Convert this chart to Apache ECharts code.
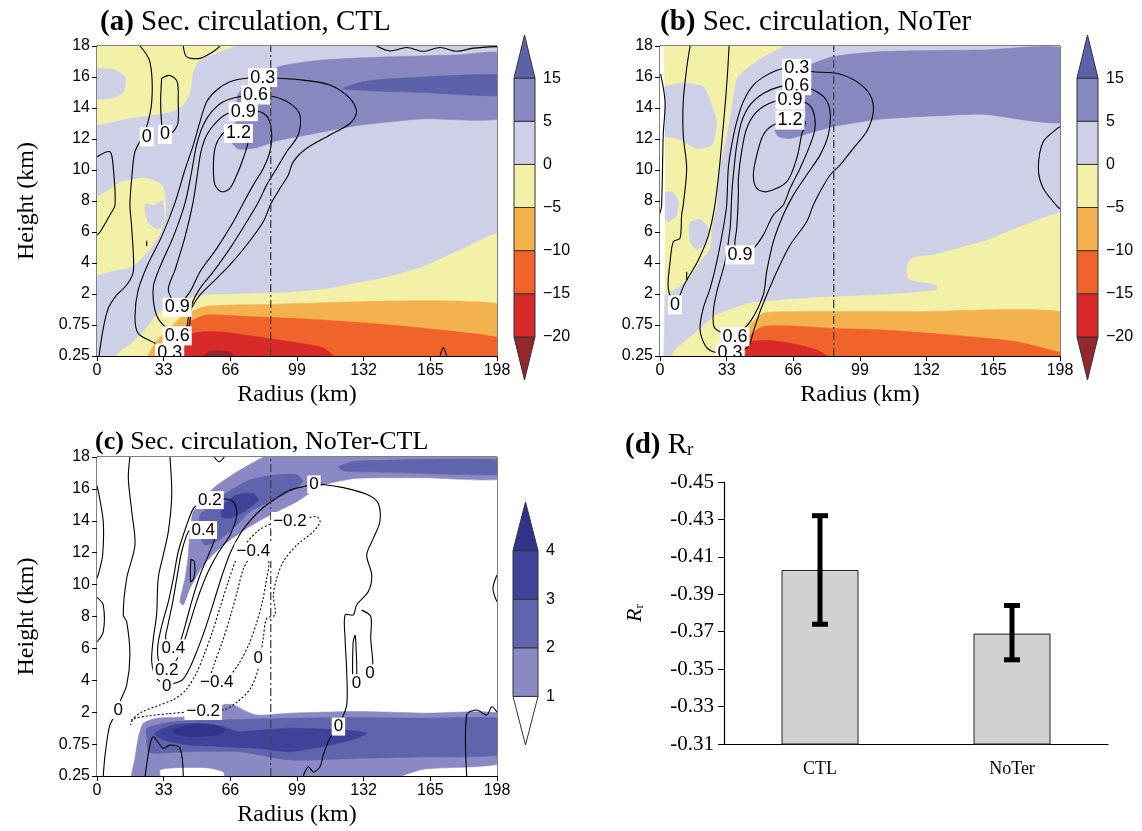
<!DOCTYPE html>
<html><head><meta charset="utf-8">
<script src="https://cdn.jsdelivr.net/npm/echarts@6/dist/echarts.min.js"></script>
<style>html,body{margin:0;padding:0;background:#fff}#c{width:1142px;height:831px}</style>
</head><body><div id="c"></div>
<script>
// ---------- axes / ticks ----------
const radiusMin = 0, radiusMax = 198, radiusStep = 33;
const heightLabels = ['0.25','0.75','2','4','6','8','10','12','14','16','18'];
const dashRadius = 86;
const cbLabelsAB = ['\u221220','\u221215','\u221210','\u22125','0','5','15'];
const cbColorsAB = ['#93272b','#d72a29','#f0632b','#f4b24f','#f3f1a7','#cdd0e7','#8788c0','#5c62aa'];
const cbLabelsC = ['1','2','3','4'];
const cbColorsC = ['#ffffff','#8b89c4','#5f64ad','#3e4399','#2f338a'];
const WHITE = '#ffffff';

// ---------- panel (a) filled regions (radius km, level index) ----------
const A_bg = [[0,0],[198,0],[198,10],[0,10]];
const A_yelTop = [[0,10],[72,10],[51,9.55],[47.5,9.16],[46,8.5],[42.6,8.1],[36,7.87],[16,7.68],[0,7.5]];
const A_lavBlob = [[0,9.2],[8,9.25],[14,9.0],[13,8.5],[6,8.3],[0,8.35]];
const A_yelMid = [[0,4.9],[5.6,5.35],[12.2,5.62],[23.8,5.73],[32,5.52],[34,5.03],[33.7,4.49],[31.2,3.97],[27.1,3.53],[22.1,3.15],[17.2,2.88],[8.9,2.77],[0,2.61]];
const A_lavMid = [[24,4.9],[28,4.85],[32.5,5.0],[33,4.3],[30,4.1],[25.5,4.3],[24,4.6]];
const A_yelLow = [[198,3.96],[178,3.36],[161.5,2.88],[145,2.56],[128.5,2.35],[112,2.15],[95.5,2.05],[79,2.01],[66,1.99],[51,1.95],[38.6,1.7],[30.3,1.38],[23.8,0.84],[17.2,0.41],[10.5,0.09],[8,0],[198,0]];
const A_org = [[198,1.65],[73,1.65],[53.5,1.59],[41.9,1.27],[35.1,0.84],[28.7,0.42],[25.2,0],[198,0]];
const A_rorg = [[198,0.52],[178,0.78],[145,1.0],[112,1.16],[87,1.24],[66,1.3],[54,1.32],[46,1.1],[41,0.68],[36,0.26],[34,0],[198,0]];
const A_red = [[118.6,0],[112,0.26],[95.5,0.46],[79,0.62],[62.4,0.77],[52.5,0.78],[46,0.68],[43.6,0.35],[42.6,0]];
const A_dred = [[51,0],[55,0.12],[60,0.17],[66,0.12],[69,0]];
const A_pur = [[89.8,9.33],[112,9.55],[145,9.65],[178,9.71],[198,9.73],[198,7.72],[161.5,7.65],[128.5,7.43],[103.8,7.13],[89,6.94],[79,6.72],[70,6.68],[66.7,6.91],[69.2,7.67],[70,8.47],[79,8.85]];
const A_dpur = [[121.9,8.63],[133.5,8.87],[161.5,9.0],[198,9.04],[198,8.42],[161.5,8.5],[136.8,8.55]];

// ---------- panel (a) contour lines ----------
const A_c0Left = [[0,6.43],[6.4,6.59],[8.1,6.05],[8.9,4.87],[6.4,4.55],[1.5,4.0],[0,3.9]];
const A_c0Long = [[21.3,10],[26.2,9.49],[27.1,8.2],[23.8,7.24],[18.8,6.59],[17.2,5.73],[16.3,4.87],[17.2,4.12],[18,2.72],[14.7,2.29],[9.8,1.97],[5.6,1.54],[3.1,0.89],[1,0]];
const A_c0Loop = [[32,8.96],[36,9.05],[39.7,8.85],[40.2,8.2],[40,7.5],[37,7.2],[33,7.2],[32,7.5],[31.5,8.2],[32,8.96]];
const A_c0Top = [[42.7,10],[44.4,9.65],[51,9.6],[57.6,9.82],[60.9,10]];
const A_c0TopR = [[138.4,10],[145,9.84],[153.3,9.95],[161.5,9.83],[169.8,9.95],[178,9.83],[186.3,9.93],[198,9.98]];
const A_bump = [[169.8,0],[171.4,0.27],[173.1,0]];
const A_tick = [[24.6,3.55],[24.6,3.72]];
const A_c03 = [[33,0.2],[28.7,0.41],[20.4,0.73],[18.8,1.27],[20.4,2.13],[25.4,2.99],[32,3.85],[38.6,4.94],[43.5,6.0],[47.7,6.81],[51,7.56],[54.3,8.2],[59.3,8.58],[65.8,8.85],[74,8.96],[82,8.98],[89.7,8.96],[102,8.9],[115.3,8.74],[125.2,8.31],[128.5,7.88],[125.2,7.5],[115.3,7.13],[103.8,6.7],[97.2,6.27],[94.7,5.84],[90.6,5.41],[86,4.9],[82.3,4.33],[74.1,3.58],[65.8,2.94],[57.6,2.4],[51,1.97],[46,1.43],[44.4,0.89],[41.9,0.35],[40,0.1]];
const A_c06 = [[39.7,0.65],[32,1.05],[28.7,1.48],[27.9,2.24],[31.2,2.88],[37.8,3.85],[43.6,4.94],[47,6.0],[49.3,6.81],[52.6,7.45],[56.8,7.88],[62.5,8.2],[70.8,8.37],[78.5,8.42],[87.3,8.37],[95.5,8.15],[100.5,7.77],[99.6,7.13],[93.9,6.59],[88.9,6.05],[84,5.52],[79.8,4.95],[74.1,4.33],[65.8,3.47],[57.6,2.72],[51,2.18],[46.9,1.65],[46,1.1],[44.4,0.68],[39.7,0.65]];
const A_c09 = [[39.7,1.57],[35.3,2.13],[38.6,2.77],[43.6,3.85],[47.5,4.94],[50,6.0],[51.5,6.6],[54.3,7.13],[59.3,7.56],[65,7.83],[72.4,7.88],[80.7,7.88],[84.8,7.67],[86.5,7.13],[85.6,6.59],[82.3,6.05],[77.4,5.52],[73,5.0],[67.5,4.33],[59.3,3.47],[51,2.72],[46,2.07],[39.7,1.57]];
const A_c12 = [[70,7.18],[67.5,7.4],[61.7,7.13],[58.4,6.7],[57.6,6.05],[58.4,5.52],[61.7,5.3],[65.8,5.41],[69.2,5.84],[72.4,6.38],[74.9,6.91],[75.7,7.24],[70,7.18]];
const A_labels = [[82,8.98,'0.3'],[78.5,8.42,'0.6'],[72.4,7.88,'0.9'],[70,7.18,'1.2'],[24.6,7.07,'0'],[33.7,7.15,'0'],[39.7,1.57,'0.9'],[39.7,0.65,'0.6'],[36,0.1,'0.3']];

// ---------- panel (b) filled regions ----------
const B_bg = [[0,0],[198,0],[198,10],[0,10]];
const B_white = [[0,0],[1.5,0],[1.5,10],[0,10]];
const B_yelLeft = [[1.5,10],[64.4,10],[51.2,9.66],[42.9,9.28],[38,8.96],[36.3,8.42],[34.7,7.77],[33,7.13],[30.5,6.38],[28.9,5.73],[28,4.87],[25.6,4.1],[24.8,3.5],[20,3.05],[13,2.4],[5,2.07],[1.5,1.96]];
const B_lav1 = [[1.5,8.63],[11.5,8.8],[21.4,8.69],[24.8,8.2],[28,7.56],[25.6,6.8],[18.2,6.7],[8.3,7.02],[1.5,7.13]];
const B_lav2 = [[14.8,4.3],[20,4.4],[24,4.1],[23,3.6],[18,3.45],[15,3.7]];
const B_lav3 = [[1.5,5.2],[6,5.3],[9,5.0],[8,4.5],[4,4.35],[1.5,4.5]];
const B_yelLow = [[198,4.65],[196.7,4.6],[184.7,4.33],[168.3,3.9],[160,3.69],[135.3,3.26],[127,3.2],[123,3.04],[123,2.5],[137,2.29],[137,2.13],[110.5,1.97],[85.8,1.91],[61,1.81],[44.6,1.7],[28,1.32],[16.5,0.68],[8.3,0.25],[5,0],[198,0]];
const B_org = [[198,1.38],[127,1.43],[66,1.43],[51.1,1.38],[44.6,1.0],[39.6,0.46],[36.3,0],[198,0]];
const B_rorg = [[198,0.1],[196.7,0.14],[176.6,0.46],[143.6,0.68],[110.5,0.84],[85.8,0.89],[64.4,0.97],[51.1,0.95],[44.6,0.68],[42,0.35],[41.2,0],[198,0]];
const B_red = [[85,0],[77.6,0.19],[64.4,0.41],[54.5,0.5],[44.6,0.46],[42.9,0.25],[42.9,0]];
const B_pur = [[74.3,9.39],[85.8,9.66],[110.5,9.82],[160,9.87],[198,9.87],[198,7.58],[160,7.8],[143.6,7.77],[110.5,7.65],[85.8,7.4],[64.4,7.02],[58.6,7.08],[56.9,7.29],[64.4,7.34],[71.8,7.67],[71.8,8.2],[72.6,8.74],[72.6,9.28]];

// ---------- panel (b) contour lines ----------
const B_c0Edge = [[0.3,9.1],[2.5,8.2],[1.6,7.13],[0.8,4.87],[0,4.6]];
const B_c0 = [[14.9,10],[13.2,9.28],[11.5,8.2],[11.5,7.13],[13.2,6.05],[11.5,4.87],[10.7,4.55],[9.9,3.8],[6.6,3.69],[5,3.04],[4.1,2.18],[7.4,1.65],[12,2.3],[19,3.1],[24,3.9],[27,4.8],[29.3,6.0],[31,7.2],[32.5,8.3],[33.5,9.2],[34.2,10]];
const B_c03 = [[34.7,0.09],[26.4,0.14],[22.3,0.35],[19.8,0.89],[21.4,1.54],[24.8,2.18],[28.1,3.04],[31.3,4.12],[33,4.87],[33.8,6.05],[35.5,6.81],[38,7.56],[41.2,8.2],[46.2,8.74],[52.8,9.06],[60,9.26],[67.7,9.28],[75.9,9.17],[87.5,9.12],[97.4,8.85],[104,8.42],[105.6,7.88],[102.3,7.24],[95.7,6.7],[89.1,6.16],[84.2,5.84],[79.2,5.3],[75.9,4.87],[72.6,4.33],[64.4,3.58],[57.8,2.72],[52.8,1.97],[49.5,1.43],[46.2,0.78],[43.7,0.3],[38,0.1]];
const B_c06 = [[37.1,0.62],[27.2,0.89],[26.4,1.43],[28.1,2.07],[32.2,3.04],[34.7,4.12],[35.5,5.19],[36.3,5.84],[38,6.81],[40.4,7.56],[44.6,8.1],[51.1,8.47],[59.4,8.69],[67.7,8.74],[75.9,8.58],[81.7,8.31],[84.2,7.88],[83.3,7.13],[79.2,6.48],[72.6,5.84],[66,5.19],[61,4.55],[56.1,3.69],[52.8,2.72],[51.1,1.97],[44.6,1.1],[37.1,0.62]];
const B_c09 = [[39.6,3.26],[37.1,3.58],[38,4.12],[38.8,5.19],[38.8,5.73],[40.4,6.59],[42.9,7.34],[47.9,7.88],[56.1,8.2],[64.4,8.26],[72.6,8.15],[75.9,7.88],[76.7,7.34],[74.3,6.81],[69.3,6.05],[64.4,5.41],[61,4.87],[56.1,4.55],[51.1,3.9],[46.2,3.47],[39.6,3.26]];
const B_c12 = [[64.4,7.61],[71.8,7.56],[70.1,7.13],[67.7,6.38],[62.7,5.62],[52.8,5.3],[47.9,5.41],[46.2,5.84],[47.9,6.48],[51.1,7.13],[56.1,7.45],[64.4,7.61]];
const B_cRight = [[198,7.4],[196.7,7.34],[189.7,6.91],[187.3,6.05],[189.7,5.41],[196.7,4.82],[198,4.75]];
const B_tick = [[13.2,2.45],[13.2,2.72]];
const B_labels = [[67.7,9.28,'0.3'],[67.7,8.72,'0.6'],[64.4,8.26,'0.9'],[64.4,7.61,'1.2'],[39.6,3.26,'0.9'],[37.1,0.62,'0.6'],[34.7,0.09,'0.3'],[7.4,1.65,'0']];

// ---------- panel (c) filled regions ----------
const C_bg = [[0,0],[198,0],[198,10],[0,10]];
const C_upLight = [[89,10],[198,10],[198,9.33],[161.5,9.35],[128.5,9.33],[112,9.12],[98.9,8.6],[85.6,8.18],[74.1,7.76],[62.5,7.24],[52.6,6.61],[46,5.88],[42.7,5.36],[41,5.46],[43.6,6.2],[45.2,6.93],[46,7.66],[47.7,8.29],[57.6,9.02],[70.8,9.59]];
const C_upMed = [[51,8.18],[62.5,8.81],[75.7,9.28],[89,9.44],[98.9,9.44],[102,9.23],[95.5,8.91],[85.6,8.6],[75.7,8.29],[67.5,7.76],[59.2,7.35],[53.5,7.24],[51,7.55]];
const C_upDark = [[62.5,8.5],[69.2,8.81],[77.4,8.86],[79.8,8.65],[74.1,8.34],[65.8,8.08],[61.7,8.13]];
const C_upMed2 = [[119.5,9.7],[128.5,9.87],[198,9.9],[198,9.46],[145,9.52],[122,9.56]];
const C_loLight = [[198,1.91],[161.5,1.97],[128.5,2.02],[95.5,1.97],[79,1.91],[72.4,2.07],[67.5,2.23],[62.5,2.23],[60,1.95],[46,1.86],[29.5,1.81],[22.9,1.65],[20.4,1.18],[18.8,0.55],[17.2,0],[31.2,0],[31.2,0.19],[39.5,0.26],[54.3,0.26],[62.5,0.13],[64.2,0],[141.7,0],[161.5,0.21],[198,0.45]];
const C_loMed = [[24.6,1.5],[37.8,1.7],[65.8,1.76],[95.5,1.81],[128.5,1.83],[161.5,1.81],[198,1.76],[198,0.71],[161.5,0.6],[128.5,0.55],[95.5,0.5],[70.8,0.76],[46,0.76],[29.5,0.71],[25.4,0.76],[24.6,1.18]];
const C_loDark = [[29.5,1.39],[37.8,1.6],[51,1.65],[62.5,1.55],[69.2,1.39],[75.7,1.41],[95.5,1.5],[122,1.44],[133.5,1.34],[128.5,1.18],[115.3,0.97],[95.5,0.76],[79,0.87],[62.5,0.92],[46,0.97],[32.8,1.13],[28.7,1.29]];
const C_loDarkest = [[37.8,1.44],[46,1.6],[57.6,1.6],[63.4,1.44],[59.2,1.29],[46,1.23],[38.6,1.34]];

// ---------- panel (c) contour lines ----------
const C_l1 = [[16.3,10],[15.5,9.33],[17.2,8.29],[18.8,7.24],[14.7,6.2],[13,5.05],[14.7,4.84],[16.3,3.79],[14.7,2.85],[11.4,2.33],[10.5,2.07],[6.4,1.6],[4,0.66],[3.1,0]];
const C_l2 = [[0,9.1],[1,8.81],[3.1,7.97],[2.8,6.93],[1,6.4],[0,6.2]];
const C_l2b = [[0,5.6],[3.1,5.36],[3.1,4.52],[0,4.2]];
const C_l3 = [[36.1,10],[37,8.81],[35.3,7.66],[32.8,6.93],[30.3,6.2],[29.5,5.05],[27.9,4.32],[27.1,3.58],[29.5,3.06],[34.5,2.85]];
const C_l7 = [[34.5,2.85],[42,3.0],[46,3.4],[50,4.0],[54,4.7],[58,5.5],[62,6.3],[66,7.0],[71,7.6],[76.5,8.05],[82,8.4],[88.5,8.7],[95,8.95],[102,9.07],[107.4,9.14],[112,9.14],[121.9,9.04],[133.5,8.83],[139.2,8.55],[140,7.97],[136.8,7.45],[133.5,6.93],[136,6.3],[134.3,5.78],[128.5,5.36],[126.9,5.05],[122.8,5.05],[122.8,4.32],[123.6,3.27],[123.6,2.23],[120.3,1.65],[119.5,1.55],[115.3,1.18],[112,0.66],[110.4,0.29],[107.1,0.13],[104.6,0.29],[102.1,0]];
const C_l8 = [[131,5.2],[135.5,5.0],[135.5,4.3],[136.5,3.5],[135.1,3.22]];
const C_l9 = [[126.5,3.1],[126.8,4.2],[127.8,4.4],[128.5,3.6],[128.6,3.1]];
const C_l4 = [[55.9,8.65],[50,8.5],[47.7,8.39],[44.4,7.87],[40.2,7.03],[37.8,6.2],[35.3,5.46],[32,4.7],[30,4.0],[31,3.5],[34.5,3.32],[38,3.5],[42,4.0],[46,4.8],[50,5.6],[55,6.4],[60,7.0],[65.8,7.55],[69.2,8.18],[67.5,8.6],[62,8.7],[55.9,8.65]];
const C_l5 = [[52.6,7.71],[48,7.72],[45.2,7.66],[41.9,7.03],[39.5,6.2],[37.5,5.46],[35,4.7],[34,4.3],[37.8,4.0],[41,4.2],[44,4.8],[47,5.5],[51,6.3],[55,6.9],[58.5,7.5],[57,7.72],[52.6,7.71]];
const C_l6 = [[46.5,6.8],[48.3,6.7],[48,6.2],[46.3,6.1],[46.5,6.8]];
const C_n2a = [[95.5,7.99],[101,8.05],[108.8,8.13],[110.4,7.97],[107.1,7.66],[98.9,7.24],[92.2,6.72],[89,6.2],[87.3,5.67],[88.1,5.05],[84,4.94],[82.3,4.32],[80,3.4],[76,2.75],[70,2.35],[64,2.1],[58,2.05],[52.6,2.04],[44,2.0],[35,1.95],[25,1.88],[18,1.78],[16.5,1.6]];
const C_n2b = [[95.5,7.99],[88,7.95],[80,7.7],[74,7.3],[69,6.8],[65,6.1],[61,5.3],[57,4.5],[53,3.8],[49,3.2],[44,2.7],[38,2.4],[30,2.2],[22,2.0],[17,1.75]];
const C_n4 = [[77.4,7.03],[82,7.0],[85,6.7],[84,6.2],[82,5.5],[79,4.8],[75,4.1],[70,3.5],[65,3.1],[59.3,2.94],[56,3.0],[58,3.5],[62,4.2],[66,5.0],[69.5,5.8],[72.5,6.5],[77.4,7.03]];
const C_r1 = [[198,6.3],[196,5.88],[198,5.46]];
const C_r2 = [[183,0],[183,1.91],[188,2.07],[192.9,1.91],[195.4,2.17],[198,2.0]];
const C_b1 = [[23.8,0],[26.2,0.97],[27.9,1.23],[32.8,0.87],[36.1,0.97],[41.1,0.87],[42.7,0]];
const C_top = [[58,10],[60.5,9.85],[63,10]];
const C_labels = [[55.9,8.65,'0.2'],[52.6,7.71,'0.4'],[95.5,7.99,'\u22120.2'],[77.4,7.03,'\u22120.4'],[107.4,9.14,'0'],[37.8,4.0,'0.4'],[34.5,3.32,'0.2'],[34.5,2.82,'0'],[10.5,2.07,'0'],[59.3,2.94,'\u22120.4'],[79.8,3.69,'0'],[52.6,2.04,'\u22120.2'],[119.5,1.55,'0'],[128.5,2.91,'0'],[135.1,3.22,'0']];

// ---------- panel (d) ----------
const groupNames = ['CTL','NoTer'];
const rMean = [-0.403, -0.369];
const rErrHigh = [-0.432, -0.384];
const rErrLow = [-0.374, -0.355];
const rAxisMin = -0.45, rAxisMax = -0.31, rAxisStep = 0.02;

// ---------- build ----------
const fillsA = [[A_bg,cbColorsAB[5]],[A_yelTop,cbColorsAB[4]],[A_lavBlob,cbColorsAB[5]],[A_yelMid,cbColorsAB[4]],[A_lavMid,cbColorsAB[5]],[A_yelLow,cbColorsAB[4]],[A_org,cbColorsAB[3]],[A_rorg,cbColorsAB[2]],[A_red,cbColorsAB[1]],[A_dred,cbColorsAB[0]],[A_pur,cbColorsAB[6]],[A_dpur,cbColorsAB[7]]];
const fillsB = [[B_bg,cbColorsAB[5]],[B_yelLeft,cbColorsAB[4]],[B_lav1,cbColorsAB[5]],[B_lav2,cbColorsAB[5]],[B_lav3,cbColorsAB[5]],[B_yelLow,cbColorsAB[4]],[B_org,cbColorsAB[3]],[B_rorg,cbColorsAB[2]],[B_red,cbColorsAB[1]],[B_pur,cbColorsAB[6]],[B_white,WHITE]];
const fillsC = [[C_bg,WHITE],[C_upLight,cbColorsC[1]],[C_upMed,cbColorsC[2]],[C_upDark,cbColorsC[3]],[C_upMed2,cbColorsC[2]],[C_loLight,cbColorsC[1]],[C_loMed,cbColorsC[2]],[C_loDark,cbColorsC[3]],[C_loDarkest,cbColorsC[4]]];
const linesA = [[A_c0Left],[A_c0Long],[A_c0Loop],[A_c0Top],[A_c0TopR],[A_bump],[A_tick],[A_c03],[A_c06],[A_c09],[A_c12]];
const linesB = [[B_c0Edge],[B_c0],[B_c03],[B_c06],[B_c09],[B_c12],[B_cRight],[B_tick]];
const linesC = [[C_l1],[C_l2],[C_l2b],[C_l3],[C_l7],[C_l8],[C_l9],[C_l4],[C_l5],[C_l6],[C_n2a,1],[C_n2b,1],[C_n4,1],[C_r1],[C_r2],[C_b1],[C_top]];

function pad(p){
  let x = p[0], y = p[1];
  if (x <= radiusMin + 0.01) x = radiusMin - 4; else if (x >= radiusMax - 0.01) x = radiusMax + 4;
  if (y <= 0.01) y = -0.15; else if (y >= 9.99) y = 10.15;
  return [x, y];
}
function customSeries(idx, items, render, z, clip){
  return {type:'custom', xAxisIndex:idx, yAxisIndex:idx, coordinateSystem:'cartesian2d', clip: clip !== false, z:z, silent:true, animation:false,
    data: items.map(() => [0, 0]), renderItem: (params, api) => render(items[params.dataIndex], api, params.dataIndex)};
}
function fillRender(item, api){
  const pts = item[0].map(p => api.coord(pad(p)));
  return {type:'polygon', shape:{points:pts, smooth:0.2}, style:{fill:item[1], stroke:item[1], lineWidth:0.6}};
}
function lineRender(item, api){
  const pts = item[0].map(p => api.coord(p));
  return {type:'polyline', shape:{points:pts, smooth:0.3}, style:{stroke:'#000', lineWidth:1.1, fill:null, lineDash: item[1] ? [2,2] : null}};
}
function labelRenderer(size){
  return function(item, api){
    const p = api.coord([item[0], item[1]]);
    return {type:'text', x:p[0], y:p[1], style:{text:item[2], fill:'#000', font: size + 'px "Liberation Sans", Arial, sans-serif', align:'center', verticalAlign:'middle', backgroundColor:'#fff', padding:[1,2,0,2]}};
  };
}
function dashRender(item, api){
  const a = api.coord([item, 0]), b = api.coord([item, 10]);
  return {type:'polyline', shape:{points:[a,b]}, style:{stroke:'#444', lineWidth:1.3, lineDash:[8,3,2,3], fill:null}};
}
function cbRenderer(colors){
  const n = colors.length;
  return function(item, api, i){
    const pL = api.coord([0, i]), pR = api.coord([1, i]), qL = api.coord([0, i+1]), qR = api.coord([1, i+1]);
    let pts;
    if (i === 0) pts = [qL, qR, [(pL[0]+pR[0])/2, pL[1]]];
    else if (i === n-1) pts = [pL, pR, [(qL[0]+qR[0])/2, qL[1]]];
    else pts = [pL, pR, qR, qL];
    return {type:'polygon', shape:{points:pts}, style:{fill:colors[i], stroke:'#333', lineWidth:1}};
  };
}
function errRender(item, api, i){
  const top = api.coord([i, rErrHigh[i]]), bot = api.coord([i, rErrLow[i]]);
  const w = 8;
  const st = {stroke:'#000', lineWidth:5, fill:null};
  return {type:'group', children:[
    {type:'line', shape:{x1:top[0], y1:top[1], x2:bot[0], y2:bot[1]}, style:st},
    {type:'line', shape:{x1:top[0]-w, y1:top[1], x2:top[0]+w, y2:top[1]}, style:st},
    {type:'line', shape:{x1:bot[0]-w, y1:bot[1], x2:bot[0]+w, y2:bot[1]}, style:st}
  ]};
}

const sans = '"Liberation Sans", Arial, sans-serif';
const serif = '"Liberation Serif", "Times New Roman", serif';

function cXAxis(gi){
  return {type:'value', gridIndex:gi, min:radiusMin, max:radiusMax, interval:radiusStep,
    name:'Radius (km)', nameLocation:'middle', nameGap:27, nameTextStyle:{fontFamily:serif, fontSize:24, color:'#000'},
    axisLine:{show:true, onZero:false, lineStyle:{color:'#000', width:1}},
    axisTick:{show:true, inside:false, length:5, lineStyle:{color:'#000'}},
    axisLabel:{fontFamily:sans, fontSize:16, color:'#000', margin:7},
    splitLine:{show:false}};
}
function cYAxis(gi, named){
  return {type:'value', gridIndex:gi, min:0, max:10, interval:1,
    name: named ? 'Height (km)' : '', nameLocation:'middle', nameGap:58, nameRotate:90, nameTextStyle:{fontFamily:serif, fontSize:24, color:'#000'},
    axisLine:{show:true, onZero:false, lineStyle:{color:'#000', width:1}},
    axisTick:{show:true, inside:false, length:5, lineStyle:{color:'#000'}},
    axisLabel:{fontFamily:sans, fontSize:16, color:'#000', margin:7, formatter: v => heightLabels[Math.round(v)]},
    splitLine:{show:false}};
}
function cbYAxis(gi, n, labels){
  return {type:'value', gridIndex:gi, min:0, max:n, interval:1, position:'right',
    axisLine:{show:false}, axisTick:{show:false}, splitLine:{show:false},
    axisLabel:{fontFamily:sans, fontSize:16, color:'#000', margin:8, showMinLabel:true, showMaxLabel:true,
      formatter: v => { const k = Math.round(v); return (k >= 1 && k <= labels.length) ? labels[k-1] : ''; }}};
}
function cbXAxis(gi){ return {type:'value', gridIndex:gi, min:0, max:1, show:false}; }

function titleRich(fs){
  return {b:{fontFamily:serif, fontSize:fs, fontWeight:'bold', color:'#000'},
          n:{fontFamily:serif, fontSize:fs, fontWeight:'normal', color:'#000'},
          s:{fontFamily:serif, fontSize:Math.round(fs*0.66), fontWeight:'normal', color:'#000', verticalAlign:'bottom', padding:[10,0,0,0]}};
}
function titleStyle(fs){ return {fontFamily:serif, fontSize:fs, fontWeight:'normal', color:'#000', rich:titleRich(fs)}; }

const option = {
  backgroundColor:'#fff',
  animation:false,
  title:[
    {text:'{b|(a)}{n| Sec. circulation, CTL}', left:95, top:3, textStyle:titleStyle(29)},
    {text:'{b|(b)}{n| Sec. circulation, NoTer}', left:655, top:3, textStyle:titleStyle(29)},
    {text:'{b|(c)}{n| Sec. circulation, NoTer-CTL}', left:90, top:424, textStyle:titleStyle(26)},
    {text:'{b|(d)}{n| R}{s|r}', left:620, top:426, textStyle:titleStyle(29)}
  ],
  grid:[
    {left:97, top:46, width:400, height:310, show:true, borderColor:'#000', borderWidth:1, backgroundColor:'transparent'},
    {left:660, top:46, width:400, height:310, show:true, borderColor:'#000', borderWidth:1, backgroundColor:'transparent'},
    {left:97, top:457, width:400, height:319, show:true, borderColor:'#000', borderWidth:1, backgroundColor:'transparent'},
    {left:724, top:482, width:384, height:262},
    {left:514, top:35, width:21, height:345},
    {left:1077, top:35, width:21, height:345},
    {left:513, top:502, width:25, height:243}
  ],
  xAxis:[
    cXAxis(0), cXAxis(1), cXAxis(2),
    {type:'category', gridIndex:3, data:groupNames, axisLine:{show:true, onZero:false, lineStyle:{color:'#000', width:1.2}}, axisTick:{show:false},
      axisLabel:{fontFamily:serif, fontSize:18, color:'#000', margin:16, interval:0}},
    cbXAxis(4), cbXAxis(5), cbXAxis(6)
  ],
  yAxis:[
    cYAxis(0, true), cYAxis(1, false), cYAxis(2, true),
    {type:'value', gridIndex:3, inverse:true, min:rAxisMin, max:rAxisMax, interval:rAxisStep,
      name:'{i|R}{s|r}', nameLocation:'middle', nameGap:78, nameRotate:90,
      nameTextStyle:{rich:{i:{fontFamily:serif, fontStyle:'italic', fontSize:22, color:'#000'}, s:{fontFamily:serif, fontSize:13, color:'#000', verticalAlign:'bottom', padding:[8,0,0,0]}}},
      axisLine:{show:true, onZero:false, lineStyle:{color:'#000', width:1.2}},
      axisTick:{show:true, inside:false, length:6, lineStyle:{color:'#000'}},
      axisLabel:{fontFamily:serif, fontSize:21, color:'#000', margin:10, formatter: v => v.toFixed(2)},
      splitLine:{show:false}},
    cbYAxis(4, 8, cbLabelsAB), cbYAxis(5, 8, cbLabelsAB), cbYAxis(6, 5, cbLabelsC)
  ],
  series:[
    customSeries(0, fillsA, fillRender, 1),
    customSeries(0, linesA, lineRender, 2),
    customSeries(0, [dashRadius], dashRender, 3),
    customSeries(0, A_labels, labelRenderer(18), 4),
    customSeries(1, fillsB, fillRender, 1),
    customSeries(1, linesB, lineRender, 2),
    customSeries(1, [dashRadius], dashRender, 3),
    customSeries(1, B_labels, labelRenderer(18), 4),
    customSeries(2, fillsC, fillRender, 1),
    customSeries(2, linesC, lineRender, 2),
    customSeries(2, [dashRadius], dashRender, 3),
    customSeries(2, C_labels, labelRenderer(17), 4),
    {type:'bar', xAxisIndex:3, yAxisIndex:3, data:rMean, barWidth:77, clip:true, animation:false,
      itemStyle:{color:'#d0d1d3', borderColor:'#222', borderWidth:1}},
    customSeries(3, groupNames, errRender, 5, false),
    customSeries(4, cbColorsAB, cbRenderer(cbColorsAB), 2, false),
    customSeries(5, cbColorsAB, cbRenderer(cbColorsAB), 2, false),
    customSeries(6, cbColorsC, cbRenderer(cbColorsC), 2, false)
  ]
};
const chart = echarts.init(document.getElementById('c'), null, {renderer:'canvas'});
chart.setOption(option);
</script></body></html>
